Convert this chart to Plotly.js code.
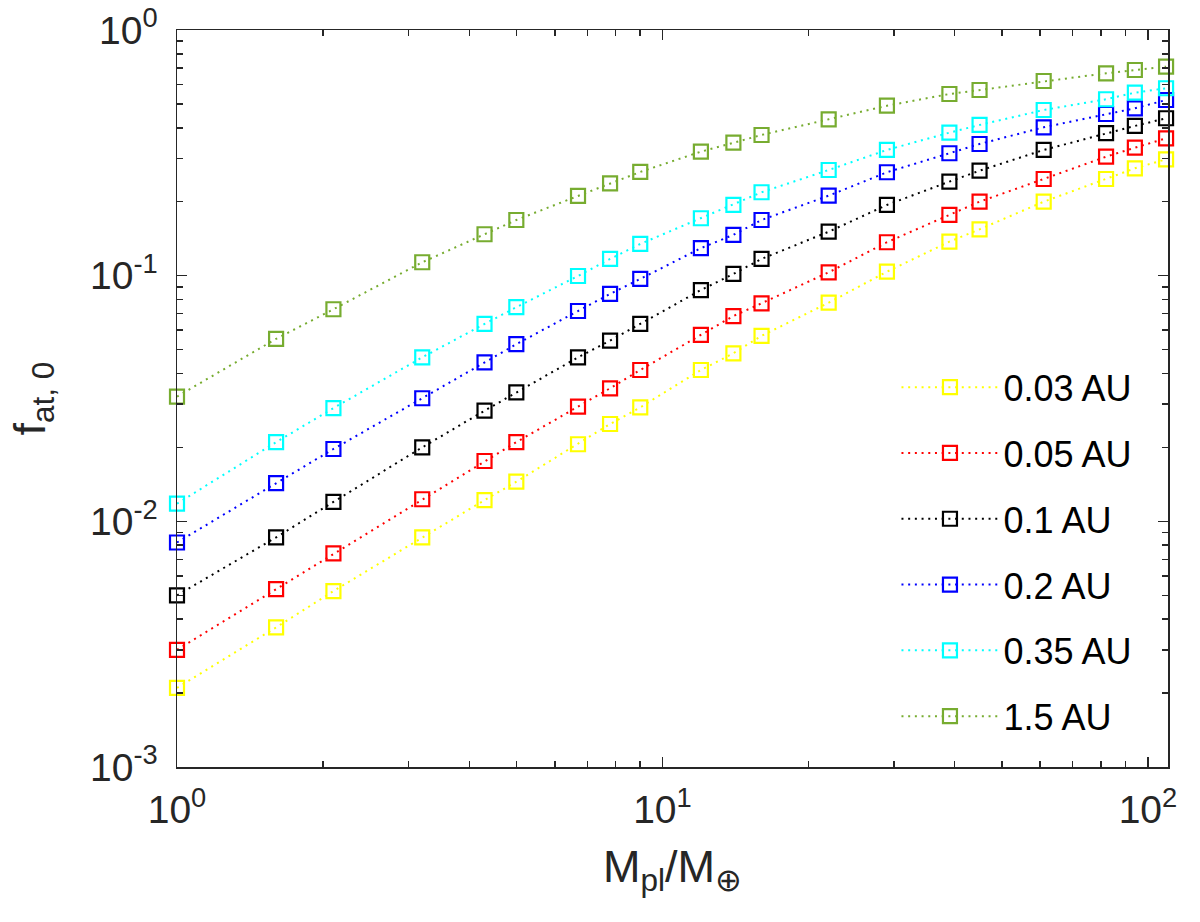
<!DOCTYPE html>
<html>
<head>
<meta charset="utf-8">
<script src="https://cdn.plot.ly/plotly-3.0.1.min.js"></script>
<style>
  html, body { margin: 0; padding: 0; background: #fff; }
  #chart { width: 1200px; height: 922px; }
</style>
</head>
<body>
<div id="chart"></div>
<script>
// planet mass in Earth masses
var massVals = [1, 1.6, 2.1, 3.2, 4.3, 5, 6.7, 7.8, 9, 12, 14, 16, 22, 29, 39, 45, 61, 82, 94, 109];

// f_at,0 for each orbital distance
var f003 = [0.0021, 0.0037, 0.0052, 0.0086, 0.0122, 0.0145, 0.0206, 0.0249, 0.0291, 0.0413, 0.0483, 0.0569, 0.0776, 0.1038, 0.1375, 0.1544, 0.2000, 0.2475, 0.2735, 0.2976];
var f005 = [0.0030, 0.0053, 0.0074, 0.0123, 0.0176, 0.0210, 0.0293, 0.0348, 0.0413, 0.0574, 0.0685, 0.0772, 0.1032, 0.1368, 0.1767, 0.2000, 0.2475, 0.3050, 0.3318, 0.3623];
var f01  = [0.0050, 0.0086, 0.0120, 0.0200, 0.0282, 0.0335, 0.0465, 0.0544, 0.0636, 0.0874, 0.1016, 0.1170, 0.1510, 0.1940, 0.2415, 0.2675, 0.3249, 0.3802, 0.4068, 0.4372];
var f02  = [0.0082, 0.0143, 0.0197, 0.0317, 0.0444, 0.0526, 0.0718, 0.0843, 0.0970, 0.1294, 0.1466, 0.1685, 0.2117, 0.2636, 0.3150, 0.3436, 0.4018, 0.4550, 0.4800, 0.5188];
var f035 = [0.0118, 0.0210, 0.0289, 0.0465, 0.0636, 0.0744, 0.0997, 0.1170, 0.1346, 0.1713, 0.1940, 0.2185, 0.2692, 0.3249, 0.3821, 0.4106, 0.4725, 0.5225, 0.5556, 0.5793];
var f15  = [0.0322, 0.0553, 0.0730, 0.1134, 0.1474, 0.1685, 0.2111, 0.2377, 0.2643, 0.3196, 0.3477, 0.3738, 0.4330, 0.4918, 0.5489, 0.5699, 0.6200, 0.6664, 0.6874, 0.7090];

var seriesNames = ['0.03 AU', '0.05 AU', '0.1 AU', '0.2 AU', '0.35 AU', '1.5 AU'];
var seriesVals = [f003, f005, f01, f02, f035, f15];
var seriesColors = ['#ffff00', '#ff0000', '#000000', '#0000ff', '#00ffff', '#77ac30'];

var xTickVals = [1, 10, 100];
var xTickText = ['10<sup>0</sup>', '10<sup>1</sup>', '10<sup>2</sup>'];
var yTickVals = [0.001, 0.01, 0.1, 1];
var yTickText = ['10<sup>-3</sup>', '10<sup>-2</sup>', '10<sup>-1</sup>', '10<sup>0</sup>'];
var xMinor = [2, 3, 4, 5, 6, 7, 8, 9, 20, 30, 40, 50, 60, 70, 80, 90];
var yMinor = [0.002, 0.003, 0.004, 0.005, 0.006, 0.007, 0.008, 0.009,
              0.02, 0.03, 0.04, 0.05, 0.06, 0.07, 0.08, 0.09,
              0.2, 0.3, 0.4, 0.5, 0.6, 0.7, 0.8, 0.9];

var axisCol = '#262626';
var fontFam = '"Liberation Sans", Arial, Helvetica, sans-serif';

var traces = seriesVals.map(function (vals, i) {
  return {
    x: massVals,
    y: vals,
    name: seriesNames[i],
    legendgroup: 'g' + i,
    type: 'scatter',
    mode: 'lines+markers',
    cliponaxis: false,
    line: { color: seriesColors[i], width: 2, dash: '2px,4.7px' },
    marker: { symbol: 'square-open', size: 14, color: seriesColors[i], line: { width: 2.2, color: seriesColors[i] } }
  };
});

var axisCommon = {
  type: 'log',
  showgrid: false,
  zeroline: false,
  showline: true,
  linecolor: axisCol,
  linewidth: 1.5,
  mirror: 'allticks',
  ticks: 'inside',
  ticklen: 10,
  tickwidth: 1.5,
  tickcolor: axisCol,
  tickmode: 'array',
  tickfont: { family: fontFam, size: 39, color: axisCol },
  minor: { ticks: 'inside', ticklen: 6, tickwidth: 1.5, tickcolor: axisCol, showgrid: false }
};

var layout = {
  width: 1200,
  height: 922,
  margin: { l: 177, r: 32, t: 30, b: 155 },
  paper_bgcolor: '#fff',
  plot_bgcolor: '#fff',
  font: { family: fontFam, color: axisCol },
  showlegend: true,
  legend: {
    x: 0.726, xanchor: 'left',
    y: 0.556, yanchor: 'top',
    bgcolor: 'rgba(255,255,255,0)',
    borderwidth: 0,
    font: { family: fontFam, size: 36, color: '#000' },
    traceorder: 'grouped',
    tracegroupgap: 16,
    itemwidth: 97
  },
  xaxis: Object.assign({}, axisCommon, {
    range: [0, Math.log10(110)],
    tickvals: xTickVals,
    ticktext: xTickText,
    ticklabelstandoff: 8,
    minor: Object.assign({}, axisCommon.minor, { tickvals: xMinor }),
    title: { text: 'M<sub>pl</sub>/M<sub>⊕</sub>', font: { family: fontFam, size: 45, color: axisCol }, standoff: 20 }
  }),
  yaxis: Object.assign({}, axisCommon, {
    range: [-3, 0],
    tickvals: yTickVals,
    ticktext: yTickText,
    ticklabelstandoff: 10,
    minor: Object.assign({}, axisCommon.minor, { tickvals: yMinor }),
    title: { text: 'f<sub>at, 0</sub>', font: { family: fontFam, size: 45, color: axisCol }, standoff: 30 }
  })
};

Plotly.newPlot('chart', traces, layout, { displayModeBar: false, staticPlot: true });
</script>
</body>
</html>
